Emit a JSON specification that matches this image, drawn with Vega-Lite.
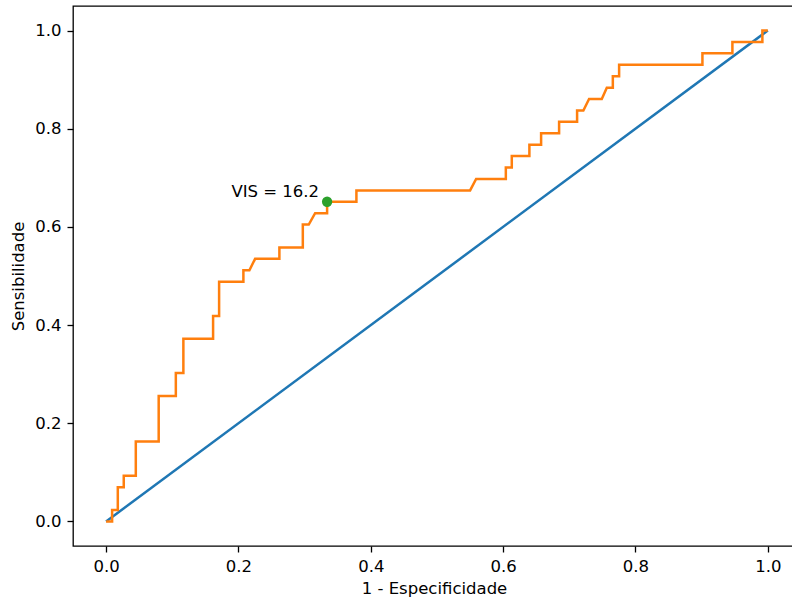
{
  "$schema": "https://vega.github.io/schema/vega-lite/v6.json",
  "width": 722,
  "height": 540,
  "autosize": "none",
  "padding": {"left": 73, "top": 6, "right": 0, "bottom": 57},
  "background": "white",
  "config": {
    "font": "DejaVu Sans",
    "view": {"stroke": "#000000", "strokeWidth": 1.3},
    "axis": {
      "domain": false,
      "grid": false,
      "tickColor": "#000000",
      "tickSize": 6,
      "tickWidth": 1.3,
      "labelFont": "DejaVu Sans",
      "labelFontSize": 16.5,
      "labelColor": "#000000",
      "labelPadding": 6,
      "titleFont": "DejaVu Sans",
      "titleFontSize": 16.5,
      "titleFontWeight": "normal",
      "titleColor": "#000000"
    }
  },
  "datasets": {
    "diag": [{"fpr": 0, "tpr": 0}, {"fpr": 1, "tpr": 1}],
    "roc": [
      {"i": 0, "fpr": 0, "tpr": 0},
      {"i": 1, "fpr": 0.0091, "tpr": 0},
      {"i": 2, "fpr": 0.0091, "tpr": 0.0233},
      {"i": 3, "fpr": 0.0177, "tpr": 0.0233},
      {"i": 4, "fpr": 0.0177, "tpr": 0.0698},
      {"i": 5, "fpr": 0.0267, "tpr": 0.0698},
      {"i": 6, "fpr": 0.0267, "tpr": 0.093},
      {"i": 7, "fpr": 0.0449, "tpr": 0.093},
      {"i": 8, "fpr": 0.0449, "tpr": 0.1628},
      {"i": 9, "fpr": 0.0795, "tpr": 0.1628},
      {"i": 10, "fpr": 0.0795, "tpr": 0.2558},
      {"i": 11, "fpr": 0.1054, "tpr": 0.2558},
      {"i": 12, "fpr": 0.1054, "tpr": 0.3023},
      {"i": 13, "fpr": 0.1168, "tpr": 0.3023},
      {"i": 14, "fpr": 0.1168, "tpr": 0.3721},
      {"i": 15, "fpr": 0.1617, "tpr": 0.3721},
      {"i": 16, "fpr": 0.1617, "tpr": 0.4186},
      {"i": 17, "fpr": 0.1708, "tpr": 0.4186},
      {"i": 18, "fpr": 0.1708, "tpr": 0.4884},
      {"i": 19, "fpr": 0.2075, "tpr": 0.4884},
      {"i": 20, "fpr": 0.2075, "tpr": 0.5116},
      {"i": 21, "fpr": 0.2166, "tpr": 0.5116},
      {"i": 22, "fpr": 0.2252, "tpr": 0.5349},
      {"i": 23, "fpr": 0.2619, "tpr": 0.5349},
      {"i": 24, "fpr": 0.2619, "tpr": 0.5581},
      {"i": 25, "fpr": 0.2973, "tpr": 0.5581},
      {"i": 26, "fpr": 0.2973, "tpr": 0.6047},
      {"i": 27, "fpr": 0.3063, "tpr": 0.6047},
      {"i": 28, "fpr": 0.3159, "tpr": 0.6279},
      {"i": 29, "fpr": 0.334, "tpr": 0.6279},
      {"i": 30, "fpr": 0.334, "tpr": 0.6512},
      {"i": 31, "fpr": 0.3783, "tpr": 0.6512},
      {"i": 32, "fpr": 0.3783, "tpr": 0.6744},
      {"i": 33, "fpr": 0.5501, "tpr": 0.6744},
      {"i": 34, "fpr": 0.5592, "tpr": 0.6977},
      {"i": 35, "fpr": 0.6041, "tpr": 0.6977},
      {"i": 36, "fpr": 0.6041, "tpr": 0.7209},
      {"i": 37, "fpr": 0.6131, "tpr": 0.7209},
      {"i": 38, "fpr": 0.6131, "tpr": 0.7442},
      {"i": 39, "fpr": 0.6397, "tpr": 0.7442},
      {"i": 40, "fpr": 0.6397, "tpr": 0.7674},
      {"i": 41, "fpr": 0.6574, "tpr": 0.7674},
      {"i": 42, "fpr": 0.6574, "tpr": 0.7907},
      {"i": 43, "fpr": 0.6846, "tpr": 0.7907},
      {"i": 44, "fpr": 0.6846, "tpr": 0.814},
      {"i": 45, "fpr": 0.7118, "tpr": 0.814},
      {"i": 46, "fpr": 0.7118, "tpr": 0.8372},
      {"i": 47, "fpr": 0.7213, "tpr": 0.8372},
      {"i": 48, "fpr": 0.7299, "tpr": 0.8605},
      {"i": 49, "fpr": 0.7491, "tpr": 0.8605},
      {"i": 50, "fpr": 0.7567, "tpr": 0.8837},
      {"i": 51, "fpr": 0.7658, "tpr": 0.8837},
      {"i": 52, "fpr": 0.7658, "tpr": 0.907},
      {"i": 53, "fpr": 0.7753, "tpr": 0.907},
      {"i": 54, "fpr": 0.7753, "tpr": 0.9302},
      {"i": 55, "fpr": 0.9012, "tpr": 0.9302},
      {"i": 56, "fpr": 0.9012, "tpr": 0.9535},
      {"i": 57, "fpr": 0.9465, "tpr": 0.9535},
      {"i": 58, "fpr": 0.9465, "tpr": 0.9767},
      {"i": 59, "fpr": 0.9918, "tpr": 0.9767},
      {"i": 60, "fpr": 0.9918, "tpr": 1.0},
      {"i": 61, "fpr": 1.0, "tpr": 1.0}
    ],
    "best": [{"fpr": 0.334, "tpr": 0.6512, "label": "VIS = 16.2"}]
  },
  "encoding": {
    "x": {
      "field": "fpr",
      "type": "quantitative",
      "scale": {"domain": [-0.05, 1.0411], "nice": false, "zero": false},
      "axis": {"values": [0, 0.2, 0.4, 0.6, 0.8, 1.0], "format": ".1f", "title": "1 - Especificidade", "titlePadding": 6}
    },
    "y": {
      "field": "tpr",
      "type": "quantitative",
      "scale": {"domain": [-0.05, 1.05], "nice": false, "zero": false},
      "axis": {"values": [0, 0.2, 0.4, 0.6, 0.8, 1.0], "format": ".1f", "title": "Sensibilidade", "titlePadding": 8}
    }
  },
  "layer": [
    {
      "data": {"name": "diag"},
      "mark": {"type": "line", "color": "#1f77b4", "strokeWidth": 2.5, "clip": true}
    },
    {
      "data": {"name": "roc"},
      "mark": {"type": "line", "color": "#ff7f0e", "strokeWidth": 2.5, "clip": true},
      "encoding": {"order": {"field": "i", "type": "quantitative"}}
    },
    {
      "data": {"name": "best"},
      "mark": {"type": "point", "filled": true, "color": "#2ca02c", "opacity": 1, "size": 107}
    },
    {
      "data": {"name": "best"},
      "mark": {"type": "text", "align": "right", "baseline": "alphabetic", "dx": -8, "dy": -5, "fontSize": 16.5, "font": "DejaVu Sans", "color": "#000000"},
      "encoding": {"text": {"field": "label"}}
    }
  ]
}
